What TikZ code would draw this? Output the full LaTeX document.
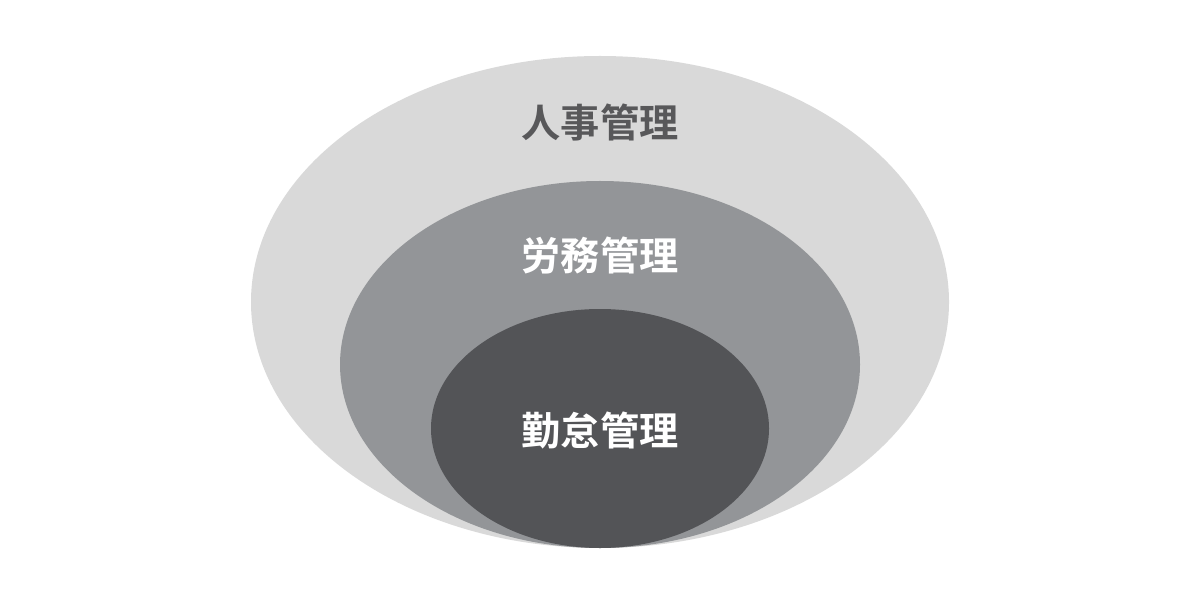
\documentclass[tikz,border=0pt]{standalone}
\usepackage{fontspec}
\newfontfamily\jpfont{Noto Sans CJK JP}[BoldFont={Noto Sans CJK JP Bold}]
\usetikzlibrary{shapes.geometric}
\definecolor{outergray}{HTML}{D9D9D9}
\definecolor{middlegray}{HTML}{939598}
\definecolor{innergray}{HTML}{535457}
\definecolor{labelgray}{HTML}{58585A}
\tikzset{
  ring/.style={ellipse, draw=none, inner sep=0pt},
  ringlabel/.style={font=\jpfont\bfseries\fontsize{22.3}{26}\selectfont, inner sep=0pt}
}
\begin{document}
\begin{tikzpicture}
  \useasboundingbox (0,0) rectangle (24,11.86);

  % Drawing ellipse jinji
  \node [ring, fill=outergray, minimum width=13.96cm, minimum height=9.84cm] (jinji) at (12,5.82) {};%

  % Drawing ellipse roumu
  \node [ring, fill=middlegray, minimum width=10.40cm, minimum height=7.34cm] (roumu) at (12,4.57) {};%

  % Drawing ellipse kintai
  \node [ring, fill=innergray, minimum width=6.76cm, minimum height=4.78cm] (kintai) at (12,3.29) {};%

  % Marking labels
  \node [ringlabel, text=labelgray] (jinjilabel) at (12,9.41) {人事管理};%
  \node [ringlabel, text=white] (roumulabel) at (12,6.76) {労務管理};%
  \node [ringlabel, text=white] (kintailabel) at (12,3.26) {勤怠管理};%
\end{tikzpicture}
\end{document}
